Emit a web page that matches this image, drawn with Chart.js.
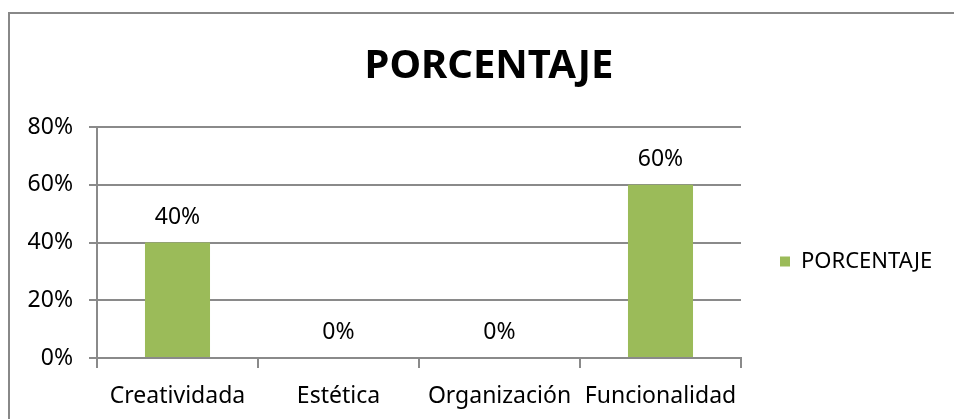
<!DOCTYPE html>
<html><head><meta charset="utf-8">
<script src="https://cdn.jsdelivr.net/npm/chart.js@4.4.1/dist/chart.umd.min.js"></script>
<style>
html,body{margin:0;padding:0;background:#fff;}
#wrap{position:relative;width:954px;height:419px;overflow:hidden;}
#frame{position:absolute;left:8px;top:12px;right:-10px;bottom:-10px;border-left:2px solid #888;border-top:2px solid #888;pointer-events:none;}
canvas{position:absolute;left:0;top:0;}
</style></head><body>
<div id="wrap"><canvas id="c" width="954" height="419"></canvas><div id="frame"></div></div>
<script>
const categories = ['Creatividada', 'Estética', 'Organización', 'Funcionalidad'];
const seriesName = 'PORCENTAJE';
const values = [40, 0, 0, 60];
const yMax = 80;
const yStep = 20;

const FONT = '"Noto Sans", "Open Sans", sans-serif';
const GRID = '#8a8a8a';

const valueLabels = {
  id: 'valueLabels',
  afterDatasetsDraw(chart) {
    const ctx = chart.ctx;
    const meta = chart.getDatasetMeta(0);
    ctx.save();
    ctx.font = '23px ' + FONT;
    ctx.fillStyle = '#000';
    ctx.textAlign = 'center';
    ctx.textBaseline = 'alphabetic';
    meta.data.forEach((bar, i) => {
      ctx.fillText(values[i] + '%', bar.x, bar.y - 19);
    });
    ctx.restore();
  }
};

// Fix the legend box width so the plot area ends where the reference's does
const legendWidth = {
  id: 'legendWidth',
  beforeLayout(chart) {
    const lg = chart.legend;
    if (lg && !lg._fixedFit) {
      const orig = lg.fit.bind(lg);
      lg.fit = function () { orig(); this.width = 213; };
      lg._fixedFit = true;
    }
  }
};

new Chart(document.getElementById('c'), {
  type: 'bar',
  data: {
    labels: categories,
    datasets: [{
      label: seriesName,
      data: values,
      backgroundColor: '#9BBB59',
      borderWidth: 0,
      categoryPercentage: 1,
      barPercentage: 0.404
    }]
  },
  options: {
    responsive: false,
    animation: false,
    devicePixelRatio: 1,
    layout: { padding: { left: 24, right: 0, top: 0, bottom: 0 } },
    plugins: {
      tooltip: { enabled: false },
      title: {
        display: true,
        text: seriesName,
        color: '#000',
        font: { family: FONT, size: 40, weight: 'bold', lineHeight: 1.2 },
        padding: { top: 43, bottom: 36 }
      },
      legend: {
        display: true,
        position: 'right',
        title: { display: true, text: '', font: { size: 10, lineHeight: 1.2 }, padding: { top: 92, bottom: 0 } },
        labels: {
          color: '#000',
          font: { family: FONT, size: 22 },
          boxWidth: 10,
          boxHeight: 10,
          padding: 39
        }
      }
    },
    scales: {
      y: {
        min: 0,
        max: yMax,
        ticks: {
          stepSize: yStep,
          color: '#000',
          padding: 16,
          font: { family: FONT, size: 23 },
          callback: v => v + '%'
        },
        grid: { color: GRID, lineWidth: 2, tickLength: 8, drawTicks: true },
        border: { display: true, color: GRID, width: 2 },
        afterFit: s => { s.width = 73; }
      },
      x: {
        ticks: {
          color: '#000',
          padding: 15,
          font: { family: FONT, size: 23 }
        },
        grid: { display: true, drawOnChartArea: false, drawTicks: true, tickLength: 10, color: GRID, lineWidth: 2, offset: true },
        border: { display: true, color: GRID, width: 2 },
        afterFit: s => { s.height = 61; }
      }
    }
  },
  plugins: [valueLabels, legendWidth]
});
</script>
</body></html>
